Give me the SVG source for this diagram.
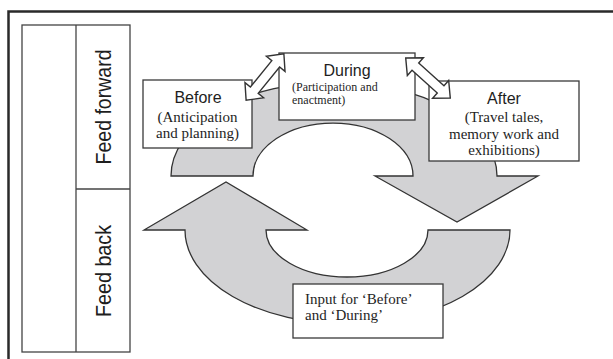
<svg xmlns="http://www.w3.org/2000/svg" width="613" height="359" viewBox="0 0 613 359">
  <style>
    .frame { fill: none; stroke: #2a2a2a; stroke-width: 2.5; }
    .cell { fill: #ffffff; stroke: #444444; stroke-width: 1.3; }
    .box { fill: #ffffff; stroke: #3a3a3a; stroke-width: 1.3; }
    .flow { fill: #d2d2d4; stroke: #333333; stroke-width: 1.3; stroke-linejoin: miter; }
    .link { fill: #ffffff; stroke: #333333; stroke-width: 1.4; stroke-linejoin: miter; }
    .side { font-family: "Liberation Sans", Arial, sans-serif; font-size: 22px; fill: #1e1e1e; }
    .title { font-family: "Liberation Sans", Arial, sans-serif; font-size: 16px; fill: #1e1e1e; text-anchor: middle; }
    .desc { font-family: "Liberation Serif", "Times New Roman", serif; font-size: 15px; fill: #1e1e1e; }
    .small { font-family: "Liberation Serif", "Times New Roman", serif; font-size: 12px; fill: #1e1e1e; }
    .mid { text-anchor: middle; }
  </style>
  <defs>
    <!-- two-headed link arrow, drawn horizontally around the origin -->
    <polygon id="dbl" class="link" points="-30,0 -17,-12 -17,-5 17,-5 17,-12 30,0 17,12 17,5 -17,5 -17,12"/>
  </defs>

  <rect width="613" height="359" fill="#ffffff"/>

  <!-- outer frame: top and left edges -->
  <path class="frame" d="M 8.5 359 V 11.5 H 613"/>

  <!-- side labels table -->
  <g id="side-table">
    <rect class="cell" x="22" y="25" width="108" height="327"/>
    <line class="cell" x1="76" y1="25" x2="76" y2="352"/>
    <line class="cell" x1="76" y1="189" x2="130" y2="189"/>
    <text class="side" transform="translate(111 107) rotate(-90)" text-anchor="middle" textLength="115" lengthAdjust="spacingAndGlyphs">Feed forward</text>
    <text class="side" transform="translate(111 271) rotate(-90)" text-anchor="middle" textLength="92" lengthAdjust="spacingAndGlyphs">Feed back</text>
  </g>

  <!-- cycle arrows -->
  <g id="connectors">
    <path id="flow-forward" class="flow" d="M 171 176 A 163 94 0 0 1 497 176 L 538 176 L 457 222 L 375 176 L 413 176 A 80 53 0 0 0 253 176 Z"/>
    <path id="flow-back" class="flow" d="M 510 230 A 162.5 94 0 0 1 185 230 L 144 230 L 226 182 L 307 230 L 266 230 A 81 47 0 0 0 428 230 Z"/>
  </g>

  <g id="before">
    <rect class="box" x="143" y="80" width="109" height="68"/>
    <text class="title" x="198" y="103">Before</text>
    <text class="desc mid" x="197.5" y="122">(Anticipation</text>
    <text class="desc mid" x="197.5" y="138">and planning)</text>
  </g>

  <g id="during">
    <rect class="box" x="279" y="53" width="136" height="67"/>
    <text class="title" x="347" y="76">During</text>
    <text class="small" x="292" y="91">(Participation and</text>
    <text class="small" x="292" y="104">enactment)</text>
  </g>

  <g id="after">
    <rect class="box" x="429" y="81" width="150" height="80"/>
    <text class="title" x="504" y="104">After</text>
    <text class="desc mid" x="504" y="122">(Travel tales,</text>
    <text class="desc mid" x="504" y="139">memory work and</text>
    <text class="desc mid" x="504" y="155">exhibitions)</text>
  </g>

  <g id="input">
    <rect class="box" x="293" y="284" width="150" height="54"/>
    <text class="desc" x="305" y="304">Input for ‘Before’</text>
    <text class="desc" x="305" y="320">and ‘During’</text>
  </g>

  <!-- two-way links between stages -->
  <g id="links">
    <use href="#dbl" transform="translate(265 77) rotate(-51)"/>
    <use href="#dbl" transform="translate(428 78) rotate(42)"/>
  </g>
</svg>
